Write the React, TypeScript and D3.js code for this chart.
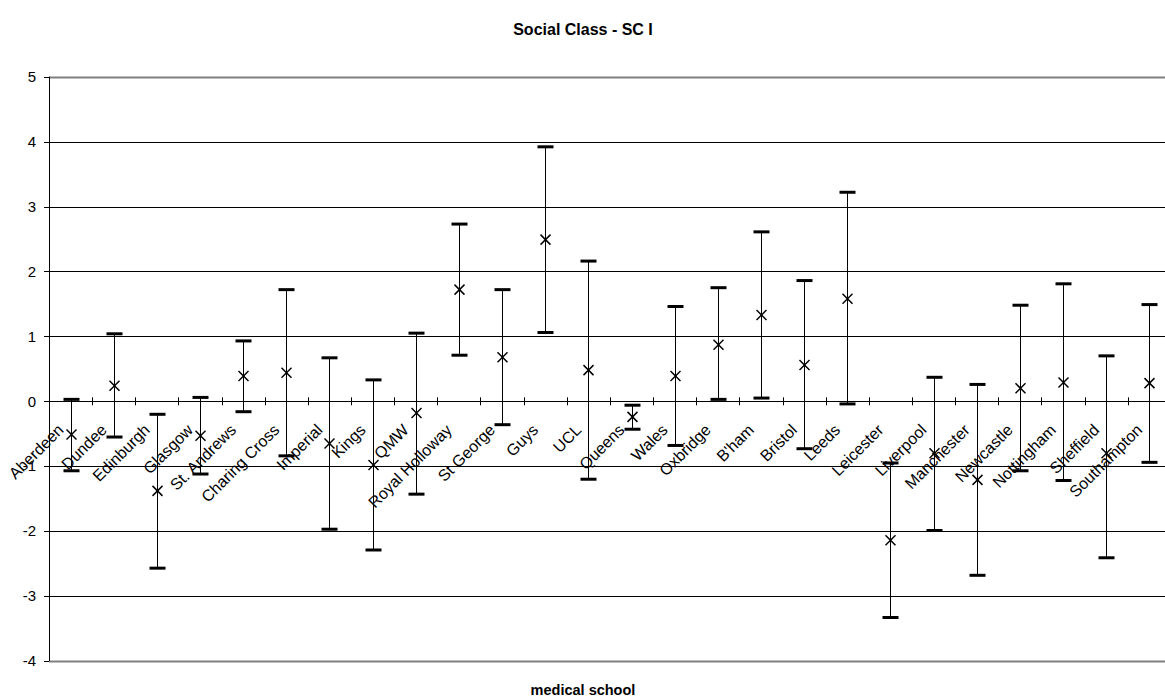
import React from "react";
import * as d3 from "d3";

const schools = ["Aberdeen","Dundee","Edinburgh","Glasgow","St. Andrews","Charing Cross","Imperial","Kings","QMW","Royal Holloway","St George","Guys","UCL","Queens","Wales","Oxbridge","B'ham","Bristol","Leeds","Leicester","Liverpool","Manchester","Newcastle","Nottingham","Sheffield","Southampton"];
const meanValues = [-0.51,0.24,-1.38,-0.53,0.39,0.44,-0.65,-0.98,-0.18,1.72,0.68,2.49,0.48,-0.24,0.39,0.87,1.33,0.56,1.58,-2.14,-0.80,-1.21,0.20,0.29,-0.80,0.28];
const upperValues = [0.03,1.04,-0.2,0.06,0.93,1.72,0.67,0.33,1.05,2.73,1.72,3.92,2.16,-0.06,1.46,1.75,2.61,1.86,3.22,-0.95,0.37,0.26,1.48,1.81,0.70,1.49];
const lowerValues = [-1.07,-0.55,-2.57,-1.12,-0.16,-0.84,-1.97,-2.29,-1.43,0.71,-0.36,1.06,-1.20,-0.43,-0.68,0.03,0.05,-0.73,-0.04,-3.33,-1.99,-2.68,-1.07,-1.22,-2.41,-0.94];
const yTicks = [5,4,3,2,1,0,-1,-2,-3,-4];
const title = "Social Class - SC I";
const xTitle = "medical school";

export default function App() {
  const W = 1165, H = 699;
  const left = 49, bandW = 43.15;
  const x = d3.scaleBand<string>().domain(schools).range([left, left + bandW * schools.length]).paddingInner(0).paddingOuter(0);
  const y = d3.scaleLinear().domain([-4, 5]).range([661, 76.7]);
  const right = left + bandW * schools.length;
  const font = "Arial, 'Liberation Sans', sans-serif";
  const cx = (s: string) => (x(s) as number) + x.bandwidth() / 2;
  const y0 = y(0);
  return (
    <svg width={W} height={H} style={{ position: "absolute", left: 0, top: 0, background: "#fff" }} fontFamily={font}>
      <rect x={0} y={0} width={W} height={H} fill="#fff" />
      <text x={583} y={35} textAnchor="middle" fontWeight="bold" fontSize={16}>{title}</text>
      {yTicks.map((t) => (
        <g key={t}>
          <line x1={left} x2={right} y1={Math.round(y(t)) + 0.5} y2={Math.round(y(t)) + 0.5}
            stroke={t === 5 || t === -4 ? "#808080" : "#000"} strokeWidth={t === 5 || t === -4 ? 2 : 1} />
          <line x1={left - 5} x2={left} y1={Math.round(y(t)) + 0.5} y2={Math.round(y(t)) + 0.5} stroke="#000" />
          <text x={36} y={y(t)} dy="0.35em" textAnchor="end" fontSize={15}>{t}</text>
        </g>
      ))}
      <line x1={left + 0.5} x2={left + 0.5} y1={y(5)} y2={y(-4)} stroke="#000" />
      <line x1={left} x2={right} y1={Math.round(y0) + 0.5} y2={Math.round(y0) + 0.5} stroke="#000" />
      {schools.map((s, i) => {
        const tx = Math.round((x(s) as number) + bandW) + 0.5;
        return <line key={"t" + i} x1={tx} x2={tx} y1={y0 - 4} y2={y0 + 4} stroke="#000" />;
      })}
      {schools.map((s, i) => (
        <text key={"l" + i} transform={`translate(${cx(s) - 6},${431}) rotate(-45)`} textAnchor="end" fontSize={16}>{s}</text>
      ))}
      {schools.map((s, i) => {
        const c = Math.round(cx(s)) + 0.5;
        const yh = y(upperValues[i]), yl = y(lowerValues[i]), ym = y(meanValues[i]);
        const m = 5;
        return (
          <g key={"e" + i}>
            <line x1={c} x2={c} y1={yh} y2={yl} stroke="#000" strokeWidth={1} />
            <line x1={c - 8} x2={c + 8} y1={yh} y2={yh} stroke="#000" strokeWidth={3} />
            <line x1={c - 8} x2={c + 8} y1={yl} y2={yl} stroke="#000" strokeWidth={3} />
            <line x1={c - m} x2={c + m} y1={ym - m} y2={ym + m} stroke="#000" strokeWidth={1.5} />
            <line x1={c - m} x2={c + m} y1={ym + m} y2={ym - m} stroke="#000" strokeWidth={1.5} />
          </g>
        );
      })}
      <text x={583} y={695} textAnchor="middle" fontWeight="bold" fontSize={14.5}>{xTitle}</text>
    </svg>
  );
}
